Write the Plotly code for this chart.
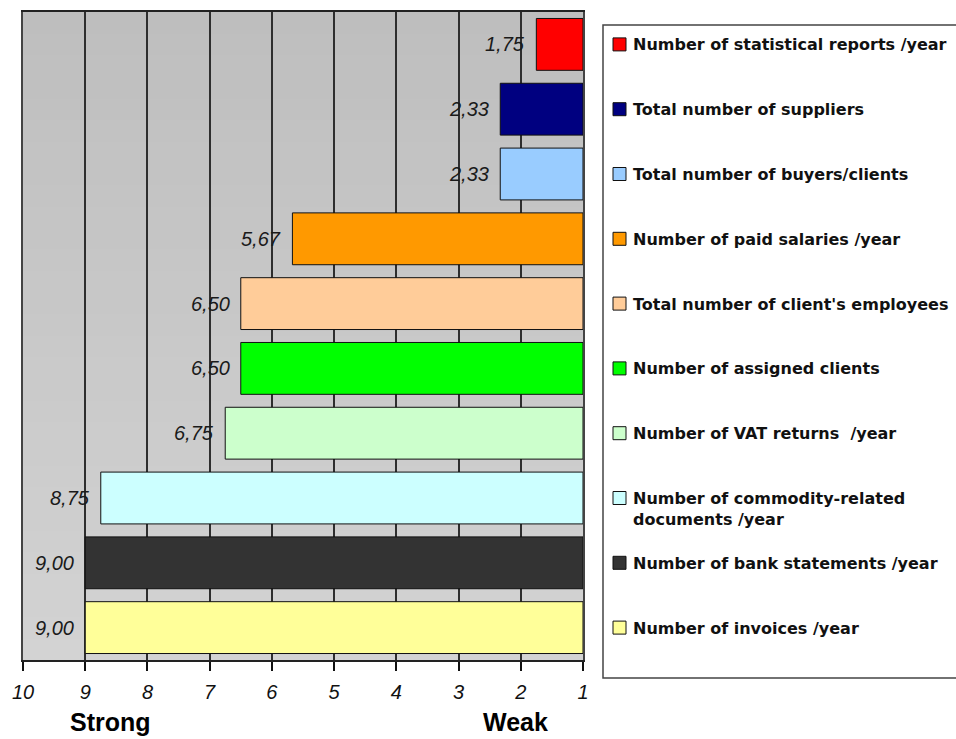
import plotly.graph_objects as go

# Indicators, listed top to bottom
indicators = [
    "Number of statistical reports /year",
    "Total number of suppliers",
    "Total number of buyers/clients",
    "Number of paid salaries /year",
    "Total number of client's employees",
    "Number of assigned clients",
    "Number of VAT returns  /year",
    "Number of commodity-related<br>documents /year",
    "Number of bank statements /year",
    "Number of invoices /year",
]
scores = [1.75, 2.33, 2.33, 5.67, 6.50, 6.50, 6.75, 8.75, 9.00, 9.00]
colors = [
    "#FF0000", "#000080", "#99CCFF", "#FF9900", "#FFCC99",
    "#00FF00", "#CCFFCC", "#CCFFFF", "#333333", "#FFFF99",
]
scale_ticks = [10, 9, 8, 7, 6, 5, 4, 3, 2, 1]
BASE = 1  # bars grow from the "weak" end of the scale

W, H = 956, 739
PL, PR, PT, PB = 23, 583, 10, 660  # plot area in pixels


def px_x(px):
    return (px - PL) / (PR - PL)


def px_y(py):
    return (PB - py) / (PB - PT)


fig = go.Figure()

for name, val, col in zip(indicators, scores, colors):
    fig.add_trace(go.Bar(
        y=[name], x=[val - BASE], base=[BASE], orientation="h", width=0.8,
        marker=dict(color=col, line=dict(color="#111111", width=1)),
        showlegend=False, hoverinfo="skip",
    ))

annotations = []
# value labels next to each bar end
for name, val in zip(indicators, scores):
    annotations.append(dict(
        x=val, y=name, xref="x", yref="y", xanchor="right", yanchor="middle",
        xshift=-9, showarrow=False, text=f"{val:.2f}".replace(".", ","),
        font=dict(family="Liberation Sans, Arial", size=20, style="italic", color="#1a1a1a"),
    ))

# scale captions
for txt, xp in (("Strong", 110), ("Weak", 515)):
    annotations.append(dict(
        x=px_x(xp), y=px_y(722), xref="paper", yref="paper",
        xanchor="center", yanchor="middle", showarrow=False, text=txt,
        font=dict(family="Liberation Sans, Arial", size=25, color="#000000", weight="bold"),
    ))

shapes = []
# soft vertical shading of the plot area (bands overlap slightly to avoid seams)
N = 30
top_c, bot_c = (190, 190, 190), (211, 211, 211)
for k in range(N):
    t = (k + 0.5) / N
    c = tuple(round(bot_c[i] + (top_c[i] - bot_c[i]) * t) for i in range(3))
    shapes.append(dict(
        type="rect", xref="paper", yref="paper", x0=0, x1=1,
        y0=k / N, y1=min(1.0, (k + 1) / N + 0.006),
        line=dict(width=0), fillcolor=f"rgb{c}", layer="below",
    ))

# legend frame
shapes.append(dict(
    type="rect", xref="paper", yref="paper",
    x0=px_x(603), x1=px_x(1100), y0=px_y(678), y1=px_y(23),
    line=dict(color="#444444", width=1.5), fillcolor="rgba(0,0,0,0)",
))

# legend keys and labels
for i, (name, col) in enumerate(zip(indicators, colors)):
    shapes.append(dict(
        type="rect", xref="paper", yref="y",
        xsizemode="pixel", xanchor=px_x(613), x0=0, x1=13,
        ysizemode="pixel", yanchor=i, y0=-6.5, y1=6.5,
        line=dict(color="#111111", width=1), fillcolor=col,
    ))
    annotations.append(dict(
        x=px_x(631), y=name, xref="paper", yref="y", xanchor="left", yanchor="top",
        yshift=11, align="left", showarrow=False, text=name,
        font=dict(family="DejaVu Sans", size=16, color="#111111", weight="bold"),
    ))

fig.update_layout(
    width=W, height=H,
    margin=dict(l=PL, r=W - PR, t=PT, b=H - PB),
    paper_bgcolor="white", plot_bgcolor="rgba(0,0,0,0)",
    barmode="overlay",
    xaxis=dict(
        range=[10, 1], tickvals=scale_ticks, ticktext=[str(t) for t in scale_ticks],
        ticks="outside", ticklen=9, tickwidth=1.5, tickcolor="#111111",
        showline=True, linecolor="#222222", linewidth=1.5, mirror=True,
        showgrid=True, gridcolor="#2e2e2e", gridwidth=1.5, zeroline=False,
        ticklabelstandoff=4,
        tickfont=dict(family="Liberation Sans, Arial", size=20, style="italic", color="#111111"),
    ),
    yaxis=dict(
        type="category", range=[len(indicators) - 0.5, -0.5],
        showticklabels=False, showgrid=False, ticks="",
        showline=True, linecolor="#444444", linewidth=1.5, mirror=True,
    ),
    shapes=shapes, annotations=annotations,
)

fig.write_html("out.html")
